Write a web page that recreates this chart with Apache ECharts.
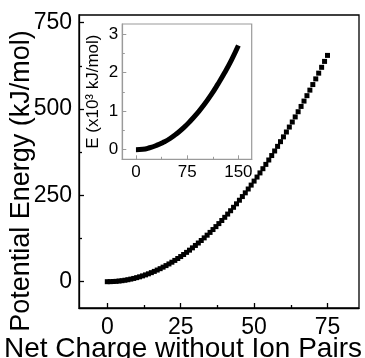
<!DOCTYPE html>
<html>
<head>
<meta charset="utf-8">
<script src="https://cdn.jsdelivr.net/npm/echarts@6/dist/echarts.min.js"></script>
<style>
html,body{margin:0;padding:0;background:#fff;}
#chart{width:365px;height:358px;}
</style>
</head>
<body>
<div id="chart"></div>
<script>
// Main plot data
var mainCharge = [0,1,2,3,4,5,6,7,8,9,10,11,12,13,14,15,16,17,18,19,20,21,22,23,24,25,26,27,28,29,30,31,32,33,34,35,36,37,38,39,40,41,42,43,44,45,46,47,48,49,50,51,52,53,54,55,56,57,58,59,60,61,62,63,64,65,66,67,68,69,70,71,72,73,74,75];
var mainEnergy = [0,0.1,0.5,1.0,1.9,2.9,4.2,5.7,7.5,9.4,11.7,14.1,16.8,19.7,22.8,26.2,29.8,33.7,37.7,42.1,46.6,51.4,56.4,61.6,67.1,72.8,78.8,84.9,91.3,98.0,104.9,112.0,119.3,126.9,134.7,142.7,151.0,159.5,168.2,177.2,186.4,195.8,205.5,215.4,225.5,235.9,246.5,257.3,268.4,279.7,291.3,303.0,315.0,327.2,339.7,352.4,365.3,378.5,391.9,405.5,419.4,433.5,447.8,462.4,477.2,492.2,507.5,523.0,538.7,554.7,570.9,587.3,603.9,620.8,637.9,655.3];
// Inset data (E in 10^3 kJ/mol)
var insetCharge = [0,10,20,30,40,50,60,70,80,90,100,110,120,130,140,150];
var insetEnergy = [0,0.01,0.05,0.11,0.19,0.29,0.42,0.57,0.75,0.95,1.17,1.42,1.70,2.00,2.33,2.70];
// Ticks
var mainXTicks = [0,25,50,75];
var mainXMinor = [12.5,37.5,62.5];
var mainYTicks = [0,250,500,750];
var mainYMinor = [125,375,625];
var insetXTicks = [0,75,150];
var insetXMinor = [37.5,112.5];
var insetYTicks = [0,1,2,3];
var insetYMinor = [0.5,1.5,2.5];
// Titles
var xTitle = 'Net Charge without Ion Pairs';
var yTitle = 'Potential Energy (kJ/mol)';
var insetYTitle = 'E (x10\u00b3 kJ/mol)';

var FONT = 'Liberation Sans, Arial, sans-serif';
var mainPts = mainCharge.map(function(c,i){return [c, mainEnergy[i]];});
var insetPts = insetCharge.map(function(c,i){return [c, insetEnergy[i]];});

function axis(o){
  var base = {type:'value', splitLine:{show:false}, scale:false};
  var r = Object.assign(base, o);
  r.axisLine = Object.assign({onZero:false}, o.axisLine || {});
  return r;
}

var chart = echarts.init(document.getElementById('chart'), null, {renderer:'canvas'});
chart.setOption({
  animation:false,
  backgroundColor:'#fff',
  grid:[
    {left:79, top:15, width:280, height:293, show:true, borderColor:'#000', borderWidth:1.3, backgroundColor:'transparent', containLabel:false, outerBoundsMode:'none'},
    {left:122.3, top:24, width:129.4, height:135.3, show:true, borderColor:'#9a9a9a', borderWidth:1.2, backgroundColor:'#fff', containLabel:false, outerBoundsMode:'none'}
  ],
  graphic:[
    {type:'text', x:183, y:349, style:{text:xTitle, fill:'#000', font:'28px ' + FONT, textAlign:'center', textVerticalAlign:'middle'}},
    {type:'text', x:22, y:181, rotation:Math.PI/2, style:{text:yTitle, fill:'#000', font:'27px ' + FONT, textAlign:'center', textVerticalAlign:'middle'}}
  ],
  xAxis:[
    axis({gridIndex:0, position:'bottom', min:-9.64, max:85.73,
      axisLine:{show:true, lineStyle:{color:'#000', width:1.3}},
      axisTick:{show:true, inside:true, length:5, customValues:mainXTicks, lineStyle:{color:'#000', width:1.3}},
      axisLabel:{show:true, customValues:mainXTicks, margin:8, color:'#000', fontFamily:FONT, fontSize:23}
    }),
    axis({gridIndex:0, position:'bottom', min:-9.64, max:85.73,
      axisLine:{show:false},
      axisTick:{show:true, inside:true, length:3, customValues:mainXMinor, lineStyle:{color:'#000', width:1.3}},
      axisLabel:{show:false}
    }),
    axis({gridIndex:1, position:'bottom', min:-20, max:169.5,
      axisLine:{show:true, lineStyle:{color:'#9a9a9a', width:1.2}},
      axisTick:{show:true, inside:true, length:4, customValues:insetXTicks, lineStyle:{color:'#9a9a9a', width:1}},
      axisLabel:{show:true, customValues:insetXTicks, margin:5, color:'#000', fontFamily:FONT, fontSize:17}
    }),
    axis({gridIndex:1, position:'bottom', min:-20, max:169.5,
      axisLine:{show:false},
      axisTick:{show:true, inside:true, length:2.5, customValues:insetXMinor, lineStyle:{color:'#9a9a9a', width:1}},
      axisLabel:{show:false}
    })
  ],
  yAxis:[
    axis({gridIndex:0, position:'left', min:-76.2, max:772.3,
      axisLine:{show:true, lineStyle:{color:'#000', width:1.3}},
      axisTick:{show:true, inside:true, length:5, customValues:mainYTicks, lineStyle:{color:'#000', width:1.3}},
      axisLabel:{show:true, customValues:mainYTicks, margin:7, color:'#000', fontFamily:FONT, fontSize:23}
    }),
    axis({gridIndex:0, position:'left', min:-76.2, max:772.3,
      axisLine:{show:false},
      axisTick:{show:true, inside:true, length:3, customValues:mainYMinor, lineStyle:{color:'#000', width:1.3}},
      axisLabel:{show:false}
    }),
    axis({gridIndex:1, position:'left', min:-0.25, max:3.26,
      axisLine:{show:true, lineStyle:{color:'#9a9a9a', width:1.2}},
      axisTick:{show:true, inside:true, length:4, customValues:insetYTicks, lineStyle:{color:'#9a9a9a', width:1}},
      axisLabel:{show:true, customValues:insetYTicks, margin:4, color:'#000', fontFamily:FONT, fontSize:17},
      name:insetYTitle, nameLocation:'middle', nameGap:20,
      nameTextStyle:{color:'#000', fontFamily:FONT, fontSize:17}
    }),
    axis({gridIndex:1, position:'left', min:-0.25, max:3.26,
      axisLine:{show:false},
      axisTick:{show:true, inside:true, length:2.5, customValues:insetYMinor, lineStyle:{color:'#9a9a9a', width:1}},
      axisLabel:{show:false}
    })
  ],
  series:[
    {type:'scatter', xAxisIndex:0, yAxisIndex:0, data:mainPts, symbol:'rect', symbolSize:5,
      itemStyle:{color:'#000', opacity:1}, silent:true},
    {type:'line', xAxisIndex:2, yAxisIndex:2, data:insetPts, smooth:true, showSymbol:false, symbol:'none',
      lineStyle:{color:'#000', width:5}, silent:true, z:5}
  ]
});
</script>
</body>
</html>
